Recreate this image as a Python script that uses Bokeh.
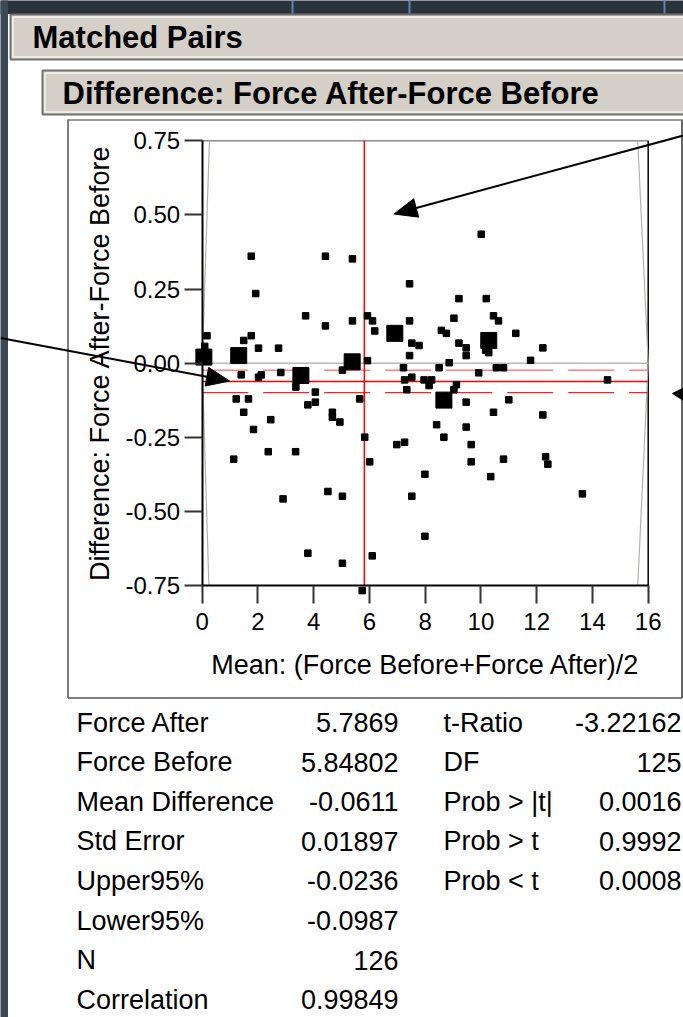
import math
from bokeh.plotting import figure
from bokeh.models import Range1d, LinearAxis, FixedTicker
from bokeh.core.properties import value
from bokeh.embed import file_html
from bokeh.resources import INLINE

# ---------------- data ----------------
small_mean = [1.76, 4.42, 5.39, 7.44, 1.92, 3.71, 5.39, 5.93, 6.11, 7.44,
              4.42, 6.19, 0.17, 1.76, 1.49, 7.52, 7.78, 2.02, 2.74, 7.44,
              0.09, 5.93, 7.22, 1.40, 2.02, 2.12, 2.82, 3.36, 5.03, 4.06,
              7.26, 7.52, 7.34, 7.96, 1.22, 1.66, 5.65, 1.49, 2.46, 1.84,
              3.79, 4.06, 4.67, 4.67, 4.94, 5.83, 6.98, 7.26, 2.37, 3.35,
              1.13, 6.01, 7.99, 4.51, 5.03, 2.90, 7.52, 7.99, 3.79, 6.10,
              5.03, 5.74, 9.47, 11.00, 10.45, 12.22, 8.41, 9.47, 8.67, 9.65,
              9.65, 10.81, 12.32, 12.40, 10.35, 13.64, 10.01, 9.21, 10.19, 9.03,
              10.45, 10.63, 8.58, 8.76, 11.25, 10.17, 10.28, 9.21, 9.47, 9.47,
              12.22, 11.78, 8.86, 8.50, 10.55, 10.81, 9.92, 8.23, 8.14, 9.12,
              9.03, 14.54]
small_diff = [0.361, 0.361, 0.352, 0.268, 0.235, 0.160, 0.143, 0.160, 0.143, 0.143,
              0.126, 0.109, 0.093, 0.093, 0.077, 0.068, 0.060, 0.051, 0.051, 0.026,
              0.057, 0.009, -0.015, -0.039, -0.047, -0.039, -0.031, -0.080, -0.023, -0.097,
              -0.056, -0.047, -0.089, -0.056, -0.120, -0.120, -0.120, -0.165, -0.190, -0.223,
              -0.140, -0.131, -0.165, -0.182, -0.198, -0.249, -0.274, -0.266, -0.298, -0.298,
              -0.323, -0.332, -0.374, -0.432, -0.448, -0.457, -0.448, -0.583, -0.640, -0.649,
              -0.674, -0.766, -0.131, -0.123, -0.165, -0.174, -0.207, -0.215, -0.249, -0.274,
              -0.332, -0.323, -0.315, -0.340, -0.382, -0.440, 0.435, 0.218, 0.218, 0.152,
              0.160, 0.143, 0.111, 0.101, 0.101, 0.044, 0.036, 0.068, 0.052, 0.026,
              0.052, 0.010, 0.002, -0.015, -0.015, -0.015, -0.032, -0.056, -0.075, -0.072,
              -0.089, -0.056]
big_mean = [0.06, 1.31, 3.54, 5.38, 6.91, 8.67, 10.28]
big_diff = [0.021, 0.026, -0.041, 0.005, 0.101, -0.124, 0.077]

x_ticks = [0, 2, 4, 6, 8, 10, 12, 14, 16]
x_tick_labels = ["0", "2", "4", "6", "8", "10", "12", "14", "16"]
y_ticks = [-0.75, -0.5, -0.25, 0.0, 0.25, 0.5, 0.75]
y_tick_labels = ["-0.75", "-0.50", "-0.25", "0.00", "0.25", "0.50", "0.75"]

x_min, x_max = 0, 16
y_min, y_max = -0.75, 0.75
mean_of_means = 5.817
mean_difference = -0.0611
upper95 = -0.0236
lower95 = -0.0987

edge_y = [0.75, 0.0, -0.75]
edge_left_x = [0.26, 0.0, 0.24]
edge_right_x = [15.625, 16.0, 15.625]

table_left_labels = ["Force After", "Force Before", "Mean Difference", "Std Error",
                     "Upper95%", "Lower95%", "N", "Correlation"]
table_left_values = ["5.7869", "5.84802", "-0.0611", "0.01897",
                     "-0.0236", "-0.0987", "126", "0.99849"]
table_right_labels = ["t-Ratio", "DF", "Prob > |t|", "Prob > t", "Prob < t"]
table_right_values = ["-3.22162", "125", "0.0016", "0.9992", "0.0008"]

title_outer = "Matched Pairs"
title_inner = "Difference: Force After-Force Before"
x_title = "Mean: (Force Before+Force After)/2"
y_title = "Difference: Force After-Force Before"

# ---------------- layout geometry (screen pixels) ----------------
W, H = 683, 1017
OX, OY = 0, 0
X_ORIGIN, X_SCALE = 201.7, 27.875     # pixel of mean=0, pixels per unit
Y_ORIGIN, Y_SCALE = 362.8, 296.7      # pixel of diff=0, pixels per unit


def dx(px):
    return (px - X_ORIGIN) / X_SCALE


def dy(py):
    return (Y_ORIGIN - py) / Y_SCALE


FONT = value("Liberation Sans")

p = figure(width=W, height=H,
           x_range=Range1d(dx(OX), dx(OX + W)),
           y_range=Range1d(dy(OY + H), dy(OY)),
           x_axis_type=None, y_axis_type=None,
           toolbar_location=None, output_backend="svg",
           min_border=0, outline_line_color=None,
           background_fill_color="white", border_fill_color="white")
p.extra_x_ranges = {"px": Range1d(OX, OX + W)}
p.extra_y_ranges = {"py": Range1d(OY + H, OY)}
PX = dict(x_range_name="px", y_range_name="py")

# ---- window chrome ----
p.quad(left=[-5], right=[700], top=[-5], bottom=[13.5], fill_color="#2b333c",
       line_color=None, **PX)
p.quad(left=[-5], right=[7.5], top=[-5], bottom=[1100], fill_color="#3a4858",
       line_color=None, **PX)
for bx in (292, 409, 664):
    p.line(x=[bx, bx], y=[0, 13], line_color="#5b86b3", line_width=2, **PX)
# header 1
p.quad(left=[10], right=[700], top=[14], bottom=[59], fill_color="#d4d0c8",
       line_color="#707070", line_width=2, **PX)
p.quad(left=[12.5], right=[700], top=[16.5], bottom=[56.5], fill_color=None,
       line_color="#f6f4f0", line_width=1.5, **PX)
p.text(x=[32], y=[37], text=[title_outer], text_font=FONT, text_font_size="31px",
       text_font_style="bold", text_baseline="middle", text_color="black", **PX)
# header 2
p.quad(left=[42], right=[700], top=[70], bottom=[114], fill_color="#d4d0c8",
       line_color="#707070", line_width=2, **PX)
p.quad(left=[44.5], right=[700], top=[72.5], bottom=[111.5], fill_color=None,
       line_color="#f6f4f0", line_width=1.5, **PX)
p.text(x=[62], y=[93], text=[title_inner], text_font=FONT, text_font_size="31px",
       text_font_style="bold", text_baseline="middle", text_color="black", **PX)
# report panel outline
p.line(x=[67.5, 67.5], y=[119, 697.5], line_color="#555555", line_width=1.5, **PX)
p.line(x=[681.5, 681.5], y=[119, 697.5], line_color="#333333", line_width=1.5, **PX)
p.line(x=[67.5, 681.5], y=[119.5, 119.5], line_color="#777777", line_width=1.5, **PX)
p.line(x=[67.5, 681.5], y=[697.5, 697.5], line_color="#555555", line_width=1.5, **PX)

# ---- plot decorations ----
p.line(x=[x_min, x_max], y=[y_max, y_max], line_color="#8a8a8a", line_width=1.5)
p.line(x=[x_max, x_max], y=[y_min, y_max], line_color="black", line_width=1.5)
p.line(x=edge_left_x, y=edge_y, line_color="#b5b2ab", line_width=1.2)
p.line(x=edge_right_x, y=edge_y, line_color="#b5b2ab", line_width=1.2)
p.line(x=[x_min, x_max], y=[0, 0], line_color="#b8b8b8", line_width=1.5)
p.line(x=[x_min, x_max], y=[upper95, upper95], line_color="#ff8080", line_width=1.5,
       line_dash="46 15")
p.line(x=[x_min, x_max], y=[lower95, lower95], line_color="#ff2020", line_width=1.2,
       line_dash="46 15")
p.line(x=[x_min, x_max], y=[mean_difference, mean_difference], line_color="#ff0000",
       line_width=1.5)
p.line(x=[mean_of_means, mean_of_means], y=[y_min, y_max], line_color="#ff0000",
       line_width=1.5)

# ---- points ----
p.scatter(x=small_mean, y=small_diff, marker="square", size=6.5,
          fill_color="black", line_color="black")
p.scatter(x=big_mean, y=big_diff, marker="square", size=16,
          fill_color="black", line_color="black")

# ---- axes ----
xax = LinearAxis(fixed_location=y_min, bounds=(x_min, x_max),
                 ticker=FixedTicker(ticks=x_ticks, minor_ticks=[]),
                 major_label_overrides={t: s for t, s in zip(x_ticks, x_tick_labels)},
                 axis_label=x_title)
yax = LinearAxis(fixed_location=x_min, bounds=(y_min, y_max),
                 ticker=FixedTicker(ticks=y_ticks, minor_ticks=[]),
                 major_label_overrides={t: s for t, s in zip(y_ticks, y_tick_labels)},
                 axis_label=y_title)
for ax in (xax, yax):
    ax.axis_line_color = "black"
    ax.axis_line_width = 2
    ax.major_tick_line_color = "#333333"
    ax.major_tick_line_width = 2
    ax.major_tick_out = 18
    ax.major_tick_in = 0
    ax.minor_tick_out = 0
    ax.minor_tick_in = 0
    ax.major_label_text_font = "Liberation Sans"
    ax.major_label_text_font_size = "24px"
    ax.major_label_text_color = "black"
    ax.axis_label_text_font = "Liberation Sans"
    ax.axis_label_text_font_size = "27px"
    ax.axis_label_text_font_style = "normal"
    ax.axis_label_text_color = "black"
xax.major_label_standoff = 9
xax.axis_label_standoff = 17
yax.major_label_standoff = 4
yax.axis_label_standoff = 8
p.add_layout(xax, "below")
p.add_layout(yax, "left")


# ---- annotation arrows ----
def arrow(x0, y0, x1, y1, head_len, head_half):
    L = math.hypot(x1 - x0, y1 - y0)
    ux, uy = (x1 - x0) / L, (y1 - y0) / L
    bx, by = x1 - head_len * ux, y1 - head_len * uy
    nx, ny = -uy, ux
    p.line(x=[x0, bx], y=[y0, by], line_color="black", line_width=2, **PX)
    p.patch(x=[x1, bx + head_half * nx, bx - head_half * nx],
            y=[y1, by + head_half * ny, by - head_half * ny],
            fill_color="black", line_color="black", line_width=1, **PX)


arrow(683, 135, 393.5, 213.5, 23, 9.5)
arrow(0, 337.5, 229, 380.5, 23, 9.5)
p.patch(x=[672, 686, 686], y=[393, 386, 402], fill_color="black", line_color="black", **PX)

# ---- statistics table ----
row0, row_step = 722, 39.6
rows_l = [row0 + i * row_step for i in range(len(table_left_labels))]
rows_r = rows_l[:len(table_right_labels)]
p.text(x=[76] * len(rows_l), y=rows_l, text=table_left_labels, text_font=FONT,
       text_font_size="27px", text_align="left", text_baseline="middle",
       text_color="black", **PX)
p.text(x=[398] * len(rows_l), y=rows_l, text=table_left_values, text_font=FONT,
       text_font_size="27px", text_align="right", text_baseline="middle",
       text_color="black", **PX)
p.text(x=[443] * len(rows_r), y=rows_r, text=table_right_labels, text_font=FONT,
       text_font_size="27px", text_align="left", text_baseline="middle",
       text_color="black", **PX)
p.text(x=[681] * len(rows_r), y=rows_r, text=table_right_values, text_font=FONT,
       text_font_size="27px", text_align="right", text_baseline="middle",
       text_color="black", **PX)

open("out.html", "w").write(file_html(p, INLINE))
